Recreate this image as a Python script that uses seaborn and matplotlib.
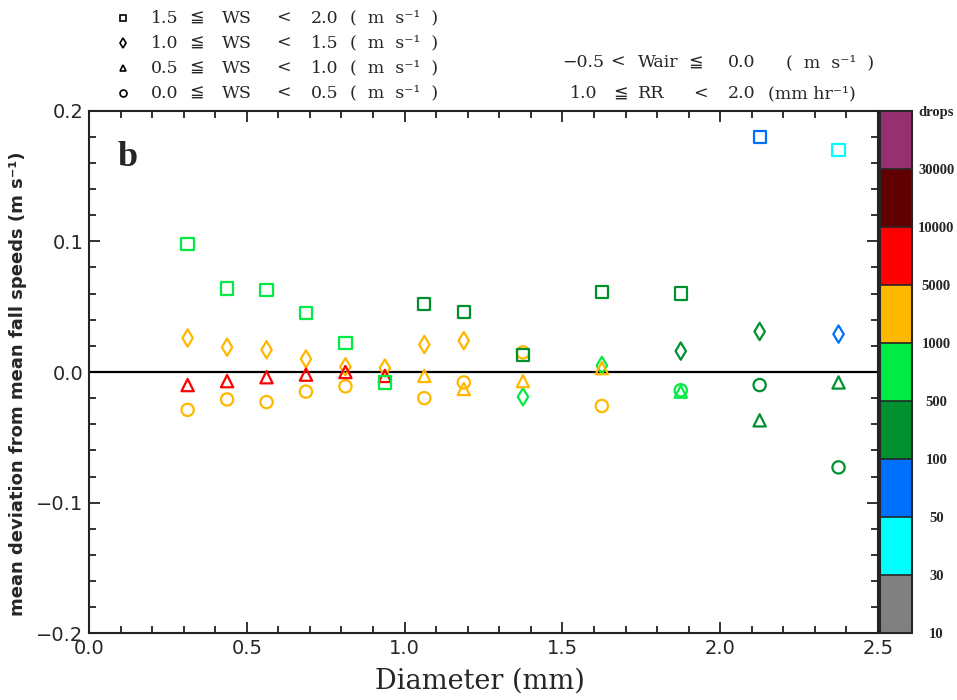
import numpy as np
import pandas as pd
import matplotlib
matplotlib.use("Agg")
import matplotlib as mpl
import matplotlib.pyplot as plt
import seaborn as sns
from matplotlib.colors import ListedColormap, BoundaryNorm
from matplotlib.lines import Line2D
from matplotlib.ticker import MultipleLocator, FuncFormatter

# Drop diameter bin centres (mm)
diameter = [0.3125, 0.4375, 0.5625, 0.6875, 0.8125, 0.9375, 1.0625,
            1.1875, 1.375, 1.625, 1.875, 2.125, 2.375]

# Mean deviation from mean fall speed (m/s) for each wind-speed class
dev_ws_15_20 = [0.098, 0.064, 0.063, 0.045, 0.022, -0.008, 0.052,
                0.046, 0.013, 0.061, 0.060, 0.180, 0.170]
dev_ws_10_15 = [0.026, 0.019, 0.017, 0.010, 0.004, 0.003, 0.021,
                0.024, -0.019, 0.005, 0.016, 0.031, 0.029]
dev_ws_05_10 = [-0.010, -0.007, -0.004, -0.002, 0.000, -0.003, -0.003,
                -0.013, -0.007, 0.003, -0.015, -0.037, -0.008]
dev_ws_00_05 = [-0.029, -0.021, -0.023, -0.015, -0.011, np.nan, -0.020,
                -0.008, 0.015, -0.026, -0.014, -0.010, -0.073]

# Number-of-drops class of each point
drops_ws_15_20 = ["500-1000"] * 6 + ["100-500"] * 5 + ["50-100", "30-50"]
drops_ws_10_15 = ["1000-5000"] * 8 + ["500-1000", "500-1000", "100-500", "100-500", "50-100"]
drops_ws_05_10 = ["5000-10000"] * 6 + ["1000-5000"] * 4 + ["500-1000", "100-500", "100-500"]
drops_ws_00_05 = ["1000-5000"] * 10 + ["500-1000", "100-500", "100-500"]

# Wind-speed classes: lower bound, upper bound, marker
ws_names = ["ws_15_20", "ws_10_15", "ws_05_10", "ws_00_05"]
ws_low = ["1.5", "1.0", "0.5", "0.0"]
ws_high = ["2.0", "1.5", "1.0", "0.5"]
ws_markers = ["s", "d", "^", "o"]

drop_bins = ["10-30", "30-50", "50-100", "100-500", "500-1000",
             "1000-5000", "5000-10000", "10000-30000", ">30000"]
drop_colors = ["#808080", "#00FFFF", "#0070FF", "#00902F", "#00EC44",
               "#FFB700", "#FF0000", "#600000", "#963070"]
colorbar_labels = ["10", "30", "50", "100", "500", "1000", "5000",
                   "10000", "30000", "drops"]

# Long table, circles drawn first and squares last
frames = []
for name, dev, drops in [("ws_00_05", dev_ws_00_05, drops_ws_00_05),
                         ("ws_10_15", dev_ws_10_15, drops_ws_10_15),
                         ("ws_05_10", dev_ws_05_10, drops_ws_05_10),
                         ("ws_15_20", dev_ws_15_20, drops_ws_15_20)]:
    frames.append(pd.DataFrame({"diameter": diameter, "deviation": dev,
                                "drops": drops, "ws": name}))
df = pd.concat(frames, ignore_index=True).dropna()

sns.set_style("ticks")
plt.rcParams["font.family"] = ["DejaVu Sans"]
serif = ["DejaVu Serif", "DejaVu Sans"]

W, H = 957, 700
fig = plt.figure(figsize=(W / 100, H / 100), dpi=100)
ax = fig.add_axes([89 / W, 1 - 633.3 / H, 789 / W, 522.6 / H])

ax.axhline(0, color="black", lw=1.6, zorder=1)
sns.scatterplot(data=df, x="diameter", y="deviation", hue="drops",
                hue_order=drop_bins, palette=dict(zip(drop_bins, drop_colors)),
                style="ws", style_order=ws_names,
                markers=dict(zip(ws_names, ws_markers)),
                s=78, linewidth=1.6, legend=False, ax=ax, zorder=3)
pts = ax.collections[-1]
pts.set_edgecolors(pts.get_facecolors())
pts.set_facecolors("none")

ax.set_xlim(0, 2.5)
ax.set_ylim(-0.2, 0.2)
ax.xaxis.set_major_locator(MultipleLocator(0.5))
ax.xaxis.set_minor_locator(MultipleLocator(0.1))
ax.yaxis.set_major_locator(MultipleLocator(0.1))
ax.yaxis.set_minor_locator(MultipleLocator(0.02))
fmt = FuncFormatter(lambda v, p: f"{v:.1f}".replace("-", "\u2212"))
ax.xaxis.set_major_formatter(fmt)
ax.yaxis.set_major_formatter(fmt)
ax.tick_params(which="both", direction="in", top=True, right=True,
               width=1.3, color="#222222")
ax.tick_params(which="major", length=8, labelsize=14, pad=4)
ax.tick_params(which="minor", length=5)
for sp in ax.spines.values():
    sp.set_linewidth(1.5)
    sp.set_color("#222222")

ax.set_xlabel("Diameter (mm)", fontsize=19.5, family=serif)
ax.xaxis.set_label_coords(0.4955, -0.066)
ax.set_ylabel("mean deviation from mean fall speeds (m s⁻¹)", fontsize=13,
              fontweight="bold")
ax.yaxis.set_label_coords(-0.079, 0.477)

ax.text(0.049, 0.911, "b", transform=ax.transAxes, fontsize=26,
        fontweight="bold", family="Liberation Serif", ha="center", va="center")

# Wind-speed class key: symbol and columns of text
key_rows = [18.3, 43.3, 68.3, 93.3]
for m, lo, hi, yr in zip(ws_markers, ws_low, ws_high, key_rows):
    yf = 1 - yr / H
    fig.add_artist(Line2D([123 / W], [yf], marker=m, ls="none", mfc="none",
                          mec="black", mew=1.2, ms=5,
                          transform=fig.transFigure))
    for xp, s in [(151, lo), (189, "≦"), (222, "WS"), (276, "<"),
                  (311, hi), (350, "(  m  s⁻¹  )")]:
        fig.text(xp / W, yf, s, ha="left", va="center", fontsize=12.5,
                 family=serif)

# Vertical-air-speed and rain-rate class
for xp, s in [(562, "−0.5"), (610, "<"), (638, "Wair"), (688, "≦"),
              (728, "0.0"), (786, "(  m  s⁻¹  )")]:
    fig.text(xp / W, 1 - 62.7 / H, s, ha="left", va="center", fontsize=12.5,
             family=serif)
for xp, s in [(570, "1.0"), (613, "≦"), (638, "RR"), (693, "<"),
              (728, "2.0"), (768, "(mm hr⁻¹)")]:
    fig.text(xp / W, 1 - 94 / H, s, ha="left", va="center", fontsize=12.5,
             family=serif)

# Drop-count colour key
cax = fig.add_axes([880 / W, 1 - 633.3 / H, 32 / W, 522.6 / H])
cmap = ListedColormap(drop_colors)
norm = BoundaryNorm(np.arange(len(drop_colors) + 1), cmap.N)
cb = fig.colorbar(mpl.cm.ScalarMappable(norm=norm, cmap=cmap), cax=cax,
                  ticks=np.arange(len(colorbar_labels)), drawedges=True)
cb.outline.set_linewidth(1.5)
cb.dividers.set_linewidth(1.2)
cb.set_ticklabels(colorbar_labels)
cax.tick_params(length=0, pad=17.5)
for t in cax.get_yticklabels():
    t.set_ha("center")
    t.set_fontsize(10.5)
    t.set_fontweight("bold")
    t.set_family("Liberation Serif")

fig.savefig("out.png", dpi=100)
